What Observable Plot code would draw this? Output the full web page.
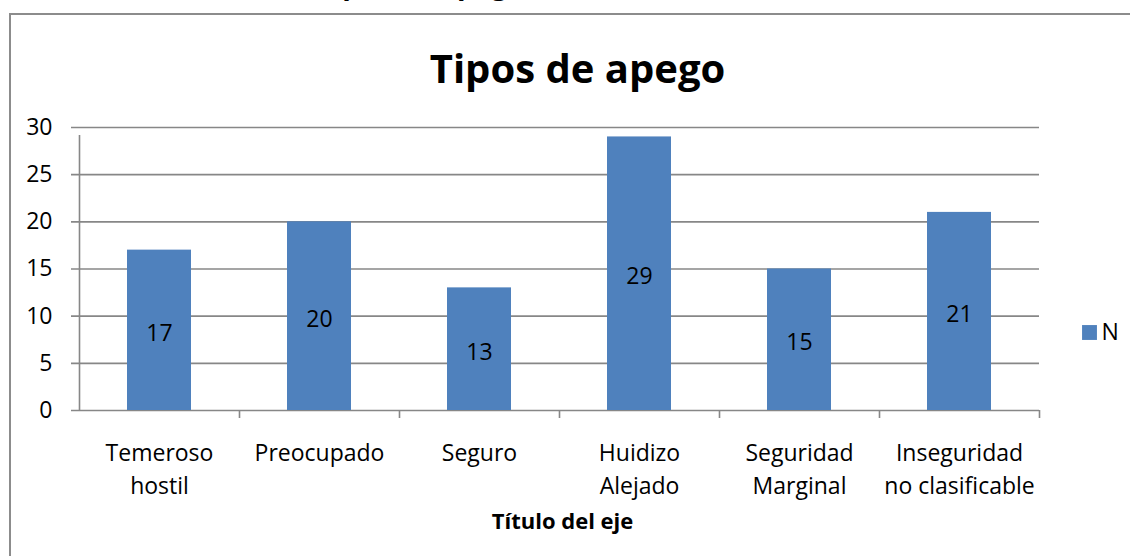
<!DOCTYPE html>
<html>
<head>
<meta charset="utf-8">
<script src="https://cdn.jsdelivr.net/npm/d3@7"></script>
<script src="https://cdn.jsdelivr.net/npm/@observablehq/plot@0.6"></script>
<style>
  html, body { margin: 0; padding: 0; background: #fff; overflow: hidden; width: 1130px; height: 556px; }
  #wrap { position: relative; width: 1130px; height: 556px; }
  #border { position: absolute; left: 9px; top: 13px; width: 1200px; height: 700px; border: 2px solid #8c8c8c; box-sizing: border-box; }
  #chart { position: absolute; left: 0; top: 0; }
  #chart svg { background: transparent !important; }
</style>
</head>
<body>
<div id="wrap"><div id="border"></div><div id="chart"></div></div>
<script>
const categories = ["Temeroso\nhostil", "Preocupado", "Seguro", "Huidizo\nAlejado", "Seguridad\nMarginal", "Inseguridad\nno clasificable"];
const values = [17, 20, 13, 29, 15, 21];
const yTicks = [0, 5, 10, 15, 20, 25, 30];
const title = "Tipos de apego";
const xTitle = "Título del eje";
const seriesName = "N";

const data = categories.map((c, i) => ({cat: c, i, v: values[i]}));
const FONT = "'Open Sans', 'DejaVu Sans', sans-serif";
const grid = "#878787";
const barColor = "#4f81bd";

const chart = Plot.plot({
  width: 1130,
  height: 556,
  marginLeft: 79,
  marginRight: 91,
  marginTop: 127,
  marginBottom: 146,
  style: {fontFamily: FONT, background: "transparent", color: "#000"},
  x: {type: "linear", domain: [0, categories.length], axis: null},
  y: {domain: [0, 30], axis: null},
  marks: [
    // cut-off title fragment at very top (only descenders visible)
    Plot.text([title], {frameAnchor: "top-left", text: d => d, textAnchor: "start", lineAnchor: "bottom", dx: 238, dy: -134, fontSize: 28, fontWeight: "bold", fill: "#000"}),
    // gridlines
    Plot.ruleY(yTicks, {stroke: grid, strokeWidth: 1.6, insetLeft: -8}),
    // y axis line
    Plot.ruleX([0], {y1: 0, y2: 30, stroke: grid, strokeWidth: 1.6, insetBottom: -8}),
    // category boundary ticks
    Plot.ruleX(d3.range(1, categories.length + 1), {y1: 0, y2: 0, stroke: grid, strokeWidth: 1.6, insetBottom: -8}),
    // bars
    Plot.rectY(data, {x1: d => d.i + 0.3, x2: d => d.i + 0.7, y1: 0, y2: "v", fill: barColor}),
    // value labels
    Plot.text(data, {x: d => d.i + 0.5, y: d => d.v / 2, text: d => String(d.v), fontSize: 23, fill: "#000", lineAnchor: "middle", dy: 3}),
    // y tick labels
    Plot.text(yTicks, {x: 0, y: d => d, text: d => String(d), textAnchor: "end", dx: -27, fontSize: 23, fill: "#000", lineAnchor: "middle"}),
    // x category labels
    Plot.text(data, {x: d => d.i + 0.5, y: 0, text: "cat", lineAnchor: "top", dy: 27, fontSize: 23, lineHeight: 1.43, fill: "#000"}),
    // chart title
    Plot.text([title], {frameAnchor: "top", text: d => d, lineAnchor: "bottom", dx: 18, dy: -45, fontSize: 40, fontWeight: "bold", fill: "#000"}),
    // x axis title
    Plot.text([xTitle], {frameAnchor: "bottom", text: d => d, lineAnchor: "bottom", dx: 3, dy: 118, fontSize: 22, fontWeight: "bold", fill: "#000"}),
    // legend
    Plot.dot([seriesName], {frameAnchor: "bottom-right", symbol: "square", r: 8.4, fill: barColor, stroke: null, dx: 50, dy: -78}),
    Plot.text([seriesName], {frameAnchor: "bottom-right", text: d => d, textAnchor: "start", lineAnchor: "middle", dx: 62, dy: -78, fontSize: 23, fill: "#000"})
  ]
});
document.getElementById("chart").appendChild(chart);
</script>
</body>
</html>
